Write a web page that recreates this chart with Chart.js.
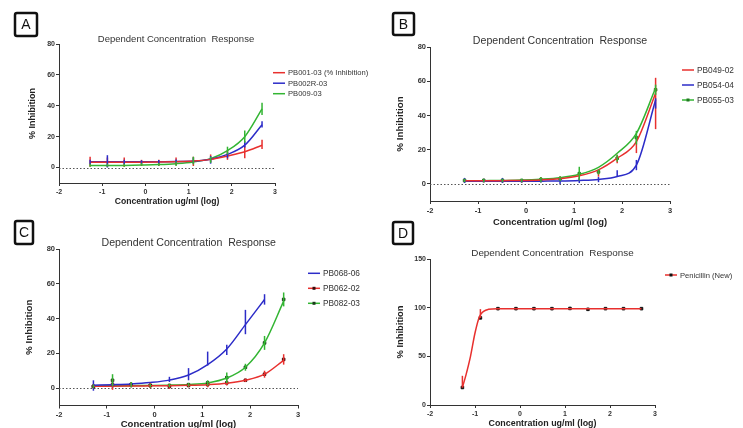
<!DOCTYPE html>
<html>
<head>
<meta charset="utf-8">
<script src="https://cdn.jsdelivr.net/npm/chart.js@4.4.1/dist/chart.umd.min.js"></script>
<style>
  html, body { margin: 0; padding: 0; background: #fff; overflow: hidden; }
  body { width: 743px; height: 428px; position: relative; }
  canvas { position: absolute; }
</style>
</head>
<body>
<canvas id="panelA" style="left:0;top:0" width="380" height="215"></canvas>
<canvas id="panelB" style="left:380px;top:0" width="363" height="232"></canvas>
<canvas id="panelC" style="left:0;top:215px" width="380" height="222"></canvas>
<canvas id="panelD" style="left:380px;top:215px" width="363" height="222"></canvas>
<script>
// log10 of the dilution series (ug/ml)
const logConc = [-1.28, -0.88, -0.49, -0.09, 0.31, 0.71, 1.11, 1.51, 1.9, 2.3, 2.7];
const xTicks = [-2, -1, 0, 1, 2, 3];
const yTicksPct = [0, 20, 40, 60, 80];
const yTicksD = [0, 50, 100, 150];

// panel A
const pb001Mean = [3.8, 3.5, 3.5, 3, 3, 4, 4, 6, 8, 10, 15];
const pb001Err = [3.2, 3, 3, 2, 2, 2.5, 3, 2.5, 3, 4, 3];
const pb001Fit = [3.5, 3.5, 3.5, 3.5, 3.6, 3.8, 4.2, 5.3, 7.5, 10.2, 14.4];
const pb002Mean = [3.6, 4, 3.5, 3.5, 3.7, 4, 4.5, 5, 8, 15, 28];
const pb002Err = [1.5, 4, 1.5, 1.2, 1.2, 1.2, 2, 2.5, 2, 2, 2];
const pb002Fit = [3.7, 3.7, 3.7, 3.7, 3.8, 3.9, 4.2, 5.4, 8.5, 14.5, 27.7];
const pb009Mean = [1.5, 1.5, 1.5, 2, 2, 2.5, 4.5, 5, 11, 20, 38];
const pb009Err = [1, 1, 1, 1, 1, 1.5, 2.5, 2, 2.5, 4, 4];
const pb009Fit = [1.3, 1.3, 1.4, 1.6, 1.9, 2.5, 3.6, 5.8, 11, 20, 38];

// panel B
const pb049Mean = [2, 2, 2, 1.8, 2.5, 3, 4, 6, 14.5, 22, 47];
const pb049Err = [1, 1, 1, 1, 1.5, 1.5, 2, 1.8, 2.5, 4, 15];
const pb049Fit = [1.8, 1.8, 1.9, 2, 2.3, 3, 4.7, 8.2, 15, 24.7, 53];
const pb054Mean = [2, 2, 2, 1.8, 1.8, 1.5, 2, 2.5, 6, 11, 47];
const pb054Err = [1.5, 1, 1.5, 1, 1, 1.5, 1.5, 1.5, 2, 3, 3];
const pb054Fit = [1.5, 1.5, 1.5, 1.5, 1.6, 1.7, 2, 2.6, 4.3, 11, 49];
const pb055Mean = [2, 2, 2, 2, 2.5, 3, 6, 7, 15, 27, 55];
const pb055Err = [1, 1, 1, 1, 1.5, 1.5, 4, 1.5, 2, 4, 3];
const pb055Fit = [1.8, 1.9, 2, 2.2, 2.7, 3.6, 5.6, 9.7, 17.9, 29.5, 56];

// panel C (PB068-06 stops at 2.3)
const pb068Mean = [1.5, 2, 2, 2.5, 5, 8, 17, 22, 38, 51];
const pb068Err = [3, 2, 1.5, 1, 1.5, 3.5, 4, 3, 7, 3];
const pb068Fit = [1.7, 2, 2.4, 3.2, 4.6, 7.5, 13.5, 22.5, 36.5, 51];
const pb062Mean = [1, 2, 2, 1.5, 1, 1.5, 2, 3, 4.5, 8, 16.5];
const pb062Err = [1, 3, 1.5, 1.5, 1.5, 1, 1.5, 1.5, 1, 2, 3];
const pb062Fit = [1.1, 1.1, 1.2, 1.3, 1.4, 1.6, 2, 2.8, 4.5, 8, 16];
const pb082Mean = [1, 4.5, 2, 1.5, 1.5, 2, 3, 6, 12, 26, 51];
const pb082Err = [1, 3.5, 1.5, 1, 1, 1, 1.5, 3, 2, 4, 4];
const pb082Fit = [1.2, 1.3, 1.4, 1.5, 1.7, 2.1, 3, 5.8, 12, 26, 50];

// panel D
const penMean = [18, 89.5, 99, 99, 99, 99, 99.2, 98.3, 99, 99, 99];
const penErrUp = [12, 9, 0, 0, 0, 0, 0, 0, 0, 0, 0];
const penFitConc = [-1.28, -1.2, -1.1, -1.0, -0.9, -0.8, -0.7, -0.5, -0.09, 0.31, 0.71, 1.11, 1.51, 1.9, 2.3, 2.7];
const penFit = [18, 31, 50, 74, 91, 96.5, 98.3, 99, 99, 99, 99, 99, 99, 99, 99, 99];

const RED = '#e8302e';
const BLUE = '#2c2cc8';
const GREEN = '#33b533';
const FONT = "'Liberation Sans', Arial, sans-serif";

function toPoints(xs, ys) {
  return ys.map((y, i) => ({ x: xs[i], y: y }));
}

function series(label, color, means, errs, fit, opts) {
  opts = opts || {};
  const xs = opts.xs || logConc;
  const markerColor = opts.markerColor || color;
  return [
    {
      label: label,
      data: toPoints(opts.fitXs || xs, fit),
      showLine: true,
      borderColor: color,
      borderWidth: 1.5,
      pointRadius: 0,
      cubicInterpolationMode: 'monotone',
      fill: false
    },
    {
      label: label,
      data: toPoints(xs, means),
      showLine: false,
      pointRadius: opts.marker ? 1.8 : 0,
      pointStyle: 'rect',
      backgroundColor: markerColor,
      borderColor: markerColor,
      errors: errs,
      errUpOnly: !!opts.upOnly,
      errColor: color,
      inLegend: true,
      legendMarker: !!opts.marker
    }
  ];
}

const errorBars = {
  id: 'errorBars',
  afterDatasetsDraw(chart) {
    const ctx = chart.ctx;
    const xs = chart.scales.x, ys = chart.scales.y;
    ctx.save();
    chart.data.datasets.forEach(ds => {
      if (!ds.errors) return;
      ctx.strokeStyle = ds.errColor;
      ctx.lineWidth = 1.5;
      ds.data.forEach((p, i) => {
        const e = ds.errors[i];
        if (!e) return;
        const px = xs.getPixelForValue(p.x);
        const lo = ds.errUpOnly ? p.y : p.y - e;
        ctx.beginPath();
        ctx.moveTo(px, ys.getPixelForValue(lo));
        ctx.lineTo(px, ys.getPixelForValue(p.y + e));
        ctx.stroke();
      });
    });
    ctx.restore();
  }
};

const zeroLine = {
  id: 'zeroLine',
  beforeDatasetsDraw(chart, args, opts) {
    if (!opts.display) return;
    const ctx = chart.ctx, a = chart.chartArea;
    const y = Math.round(chart.scales.y.getPixelForValue(0)) + 0.5;
    ctx.save();
    ctx.strokeStyle = '#555';
    ctx.lineWidth = 1;
    ctx.setLineDash([1.5, 2]);
    ctx.beginPath();
    ctx.moveTo(a.left, y);
    ctx.lineTo(a.right, y);
    ctx.stroke();
    ctx.restore();
  }
};

// panel letter, chart title and legend
const panelDeco = {
  id: 'panelDeco',
  afterDraw(chart, args, o) {
    const ctx = chart.ctx;
    ctx.save();
    const b = o.box;
    ctx.strokeStyle = '#111';
    ctx.lineWidth = 2.5;
    ctx.beginPath();
    ctx.roundRect(b.x, b.y, b.w, b.h, 2);
    ctx.stroke();
    ctx.fillStyle = '#111';
    ctx.font = '14px ' + FONT;
    ctx.textAlign = 'center';
    ctx.textBaseline = 'middle';
    ctx.fillText(o.letter, b.x + b.w / 2, b.y + b.h / 2 + 1);

    ctx.fillStyle = '#333';
    ctx.font = o.titleSize + 'px ' + FONT;
    ctx.fillText(o.title, o.titleX, o.titleY);

    ctx.textAlign = 'left';
    ctx.font = o.legendSize + 'px ' + FONT;
    let y = o.legendY;
    chart.data.datasets.filter(ds => ds.inLegend).forEach(ds => {
      ctx.strokeStyle = ds.errColor;
      ctx.lineWidth = 1.5;
      ctx.beginPath();
      ctx.moveTo(o.legendX, y);
      ctx.lineTo(o.legendX + 12, y);
      ctx.stroke();
      if (ds.legendMarker) {
        ctx.fillStyle = ds.backgroundColor;
        ctx.fillRect(o.legendX + 4.5, y - 1.5, 3, 3);
      }
      ctx.fillStyle = '#333';
      ctx.fillText(ds.label, o.legendX + 15, y + 0.5);
      y += o.legendGap;
    });
    ctx.restore();
  }
};

function makePanel(id, p) {
  const canvas = document.getElementById(id);
  const W = canvas.width, H = canvas.height;
  const xLH = p.xTitleSize * 1.2;
  const yLH = p.yTitleSize * 1.2;
  const yAxisW = p.area.left - (p.yTitleX - yLH / 2);
  const xAxisH = (p.xTitleY + xLH / 2) - p.area.bottom;
  return new Chart(canvas, {
    type: 'scatter',
    data: { datasets: p.datasets },
    options: {
      responsive: false,
      animation: false,
      layout: {
        padding: {
          left: p.area.left - yAxisW,
          top: p.area.top,
          right: W - p.area.right,
          bottom: H - p.area.bottom - xAxisH
        }
      },
      plugins: {
        legend: { display: false },
        tooltip: { enabled: false },
        zeroLine: { display: p.zeroLine },
        panelDeco: p.deco
      },
      scales: {
        x: {
          type: 'linear',
          min: -2,
          max: 3,
          afterBuildTicks: s => { s.ticks = xTicks.map(v => ({ value: v })); },
          afterFit: s => { s.height = xAxisH; s.paddingLeft = 0; s.paddingRight = 0; },
          ticks: { color: '#333', font: { family: FONT, size: p.tickSize, weight: 'bold' }, padding: 2, maxRotation: 0 },
          grid: { drawOnChartArea: false, drawTicks: true, tickLength: 3, color: '#333' },
          border: { color: '#333', width: 1 },
          title: { display: true, text: 'Concentration ug/ml (log)', color: '#222', padding: 0,
                   font: { family: FONT, size: p.xTitleSize, weight: 'bold' } }
        },
        y: {
          min: p.yMin,
          max: p.yMax,
          afterBuildTicks: s => { s.ticks = p.yTicks.map(v => ({ value: v })); },
          afterFit: s => { s.width = yAxisW; s.paddingTop = 0; s.paddingBottom = 0; },
          ticks: { color: '#333', font: { family: FONT, size: p.tickSize, weight: 'bold' }, padding: 1 },
          grid: { drawOnChartArea: false, drawTicks: true, tickLength: 3, color: '#333' },
          border: { color: '#333', width: 1 },
          title: { display: true, text: '% Inhibition', color: '#222', padding: 0,
                   font: { family: FONT, size: p.yTitleSize, weight: 'bold' } }
        }
      }
    },
    plugins: [zeroLine, errorBars, panelDeco]
  });
}

const TITLE = 'Dependent Concentration  Response';

makePanel('panelA', {
  area: { left: 59, right: 275, top: 44, bottom: 183 },
  yTitleX: 33, xTitleY: 202, xTitleSize: 8.6, yTitleSize: 9, tickSize: 7,
  yMin: -10, yMax: 80, yTicks: yTicksPct, zeroLine: true,
  datasets: [
    ...series('PB001-03 (% Inhibition)', RED, pb001Mean, pb001Err, pb001Fit),
    ...series('PB002R-03', BLUE, pb002Mean, pb002Err, pb002Fit),
    ...series('PB009-03', GREEN, pb009Mean, pb009Err, pb009Fit)
  ],
  deco: { letter: 'A', box: { x: 15, y: 13, w: 22, h: 23 }, title: TITLE, titleX: 176, titleY: 39, titleSize: 9.5,
          legendX: 273, legendY: 72.7, legendGap: 10.5, legendSize: 7.6 }
});

makePanel('panelB', {
  area: { left: 50, right: 290, top: 47, bottom: 201 },
  yTitleX: 20.7, xTitleY: 222, xTitleSize: 9.4, yTitleSize: 9.8, tickSize: 7.5,
  yMin: -10, yMax: 80, yTicks: yTicksPct, zeroLine: true,
  datasets: [
    ...series('PB049-02', RED, pb049Mean, pb049Err, pb049Fit),
    ...series('PB054-04', BLUE, pb054Mean, pb054Err, pb054Fit),
    ...series('PB055-03', GREEN, pb055Mean, pb055Err, pb055Fit, { marker: true, markerColor: '#1f7a1f' })
  ],
  deco: { letter: 'B', box: { x: 13, y: 13, w: 21, h: 22 }, title: TITLE, titleX: 180, titleY: 40.7, titleSize: 10.6,
          legendX: 302, legendY: 70, legendGap: 15, legendSize: 8.3 }
});

makePanel('panelC', {
  area: { left: 59, right: 298, top: 34, bottom: 190.5 },
  yTitleX: 29, xTitleY: 209, xTitleSize: 9.5, yTitleSize: 9.8, tickSize: 7.5,
  yMin: -10, yMax: 80, yTicks: yTicksPct, zeroLine: true,
  datasets: [
    ...series('PB068-06', BLUE, pb068Mean, pb068Err, pb068Fit, { xs: logConc.slice(0, 10) }),
    ...series('PB062-02', RED, pb062Mean, pb062Err, pb062Fit, { marker: true, markerColor: '#3a0a0a' }),
    ...series('PB082-03', GREEN, pb082Mean, pb082Err, pb082Fit, { marker: true, markerColor: '#1a3a1a' })
  ],
  deco: { letter: 'C', box: { x: 15, y: 6, w: 18, h: 23 }, title: TITLE, titleX: 188.7, titleY: 28.3, titleSize: 10.6,
          legendX: 308, legendY: 58.3, legendGap: 15, legendSize: 8.3 }
});

makePanel('panelD', {
  area: { left: 50, right: 275, top: 44, bottom: 190 },
  yTitleX: 20.7, xTitleY: 208.3, xTitleSize: 8.9, yTitleSize: 9.4, tickSize: 7,
  yMin: 0, yMax: 150, yTicks: yTicksD, zeroLine: false,
  datasets: [
    ...series('Penicillin (New)', RED, penMean, penErrUp, penFit, { fitXs: penFitConc, marker: true, markerColor: '#111', upOnly: true })
  ],
  deco: { letter: 'D', box: { x: 13, y: 7, w: 20, h: 22 }, title: TITLE, titleX: 172.5, titleY: 38.3, titleSize: 9.9,
          legendX: 285, legendY: 60, legendGap: 15, legendSize: 7.6 }
});
</script>
</body>
</html>
